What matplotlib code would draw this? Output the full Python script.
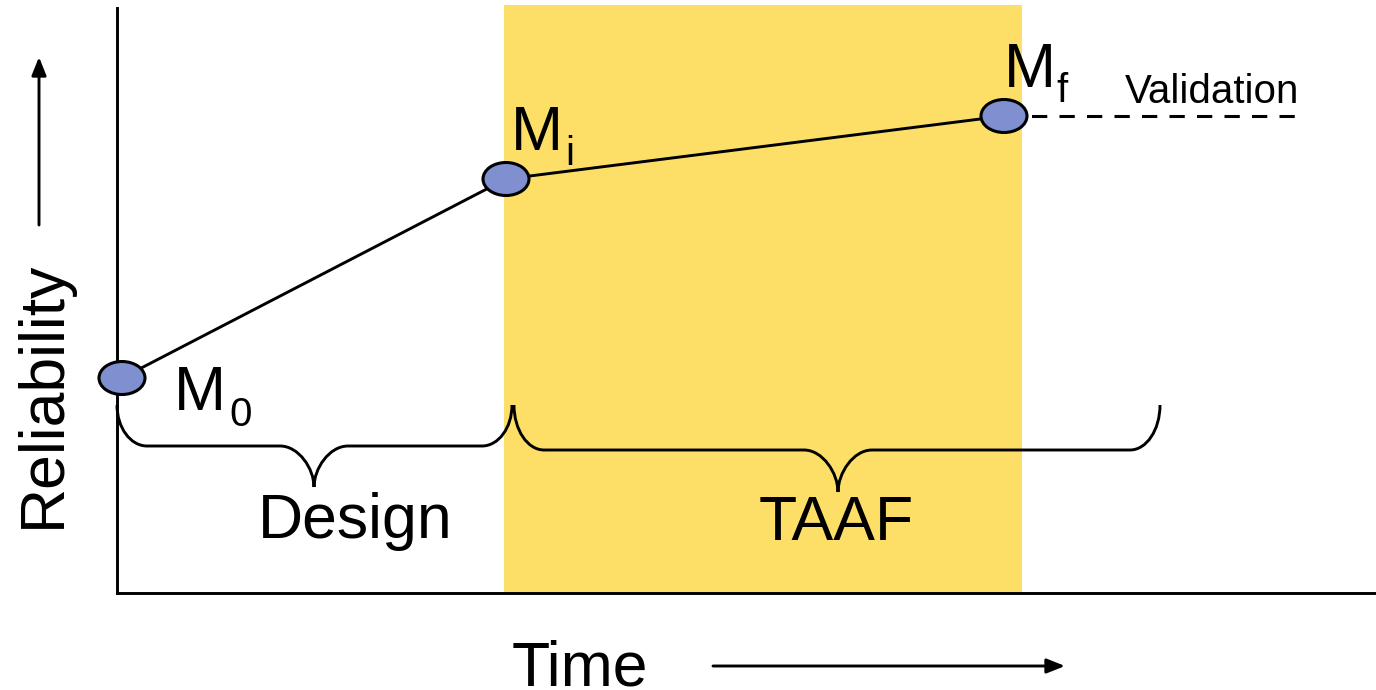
import matplotlib.pyplot as plt
from matplotlib.patches import Ellipse, Rectangle, PathPatch
from matplotlib.path import Path

plt.rcParams["font.family"] = ["Liberation Sans", "DejaVu Sans"]

# milestones (time, reliability) in figure-pixel units, y measured upward
milestone_names = ["0", "i", "f"]
milestone_time = [122, 506, 1004]
milestone_reliability = [312, 511, 574]
validation_end = 1297

# phases below the curve
phase_names = ["Design", "TAAF"]
phase_start = [117, 514]
phase_end = [512, 1160]
phase_tip = [314, 838]
taaf_span = (504, 1022)

W, H = 1376, 690
LW = 2.1


def brace(ax, x0, x1, xm, ytop, ymid, ytip, r_end=30, r_tip=34):
    k = 0.552
    d_end = ytop - ymid
    d_tip = ymid - ytip
    verts = [
        (x0, ytop),
        (x0, ytop - k * d_end), (x0 + r_end * (1 - k), ymid), (x0 + r_end, ymid),
        (xm - r_tip, ymid),
        (xm - r_tip * (1 - k), ymid), (xm, ymid - k * d_tip), (xm, ytip),
        (xm, ymid - k * d_tip), (xm + r_tip * (1 - k), ymid), (xm + r_tip, ymid),
        (x1 - r_end, ymid),
        (x1 - r_end * (1 - k), ymid), (x1, ytop - k * d_end), (x1, ytop),
    ]
    codes = [Path.MOVETO] + [Path.CURVE4] * 3 + [Path.LINETO] + [Path.CURVE4] * 6 \
        + [Path.LINETO] + [Path.CURVE4] * 3
    ax.add_patch(PathPatch(Path(verts, codes), fill=False, lw=LW, color="black", zorder=3))


def main():
    fig = plt.figure(figsize=(W / 100, H / 100), dpi=100)
    ax = fig.add_axes([0, 0, 1, 1])
    ax.set_xlim(0, W)
    ax.set_ylim(0, H)
    ax.axis("off")

    # TAAF shaded region
    ax.add_patch(Rectangle((taaf_span[0], 98), taaf_span[1] - taaf_span[0], 587,
                           facecolor="#fddf68", edgecolor="none", zorder=0))

    # axes lines
    ax.plot([117, 117], [97, 682], color="black", lw=LW, zorder=2)
    ax.plot([117, W], [97, 97], color="black", lw=LW, zorder=2)

    # growth curve
    ax.plot(milestone_time, milestone_reliability, color="black", lw=LW, zorder=3)
    ax.plot([milestone_time[-1], validation_end], [milestone_reliability[-1]] * 2,
            color="black", lw=2.2, dashes=(5, 4), zorder=3)

    for t, r in zip(milestone_time, milestone_reliability):
        ax.add_patch(Ellipse((t, r), 46, 33, facecolor="#7f8fcf",
                             edgecolor="black", lw=2.2, zorder=4))

    label_offsets = [(52, -32), (5, 29), (0, 29)]
    sub_offsets = [(107, -48), (59, 14), (52, 14)]
    for name, t, r, (dx, dy), (sx, sy) in zip(milestone_names, milestone_time,
                                              milestone_reliability, label_offsets, sub_offsets):
        ax.text(t + dx, r + dy, "M", fontsize=45, va="baseline", ha="left", zorder=5)
        ax.text(t + sx, r + sy, name, fontsize=29, va="baseline", ha="left", zorder=5)

    ax.text(1125, 690 - 103, "Validation", fontsize=29, va="baseline", ha="left")

    # phase braces
    tops = [285, 285]
    mids = [244, 240]
    tips = [203, 198]
    for x0, x1, xm, yt, ym, yp in zip(phase_start, phase_end, phase_tip, tops, mids, tips):
        brace(ax, x0, x1, xm, yt, ym, yp)
    ax.text(355, 152, phase_names[0], fontsize=45, ha="center", va="baseline")
    ax.text(836, 150, phase_names[1], fontsize=45, ha="center", va="baseline")

    # axis titles with arrows
    ax.text(512, 4, "Time", fontsize=45, ha="left", va="baseline")
    ax.annotate("", xy=(1065, 24), xytext=(713, 24),
                arrowprops=dict(arrowstyle="-|>,head_length=0.55,head_width=0.22",
                                color="black", lw=LW, shrinkA=0, shrinkB=0,
                                mutation_scale=20))
    ax.text(60, 296, "Reliability", fontsize=45, rotation=90, rotation_mode="anchor",
            ha="center", va="baseline")
    ax.annotate("", xy=(39, 633), xytext=(39, 465),
                arrowprops=dict(arrowstyle="-|>,head_length=0.55,head_width=0.22",
                                color="black", lw=LW, shrinkA=0, shrinkB=0,
                                mutation_scale=20))

    fig.savefig("out.png", dpi=100)


main()
